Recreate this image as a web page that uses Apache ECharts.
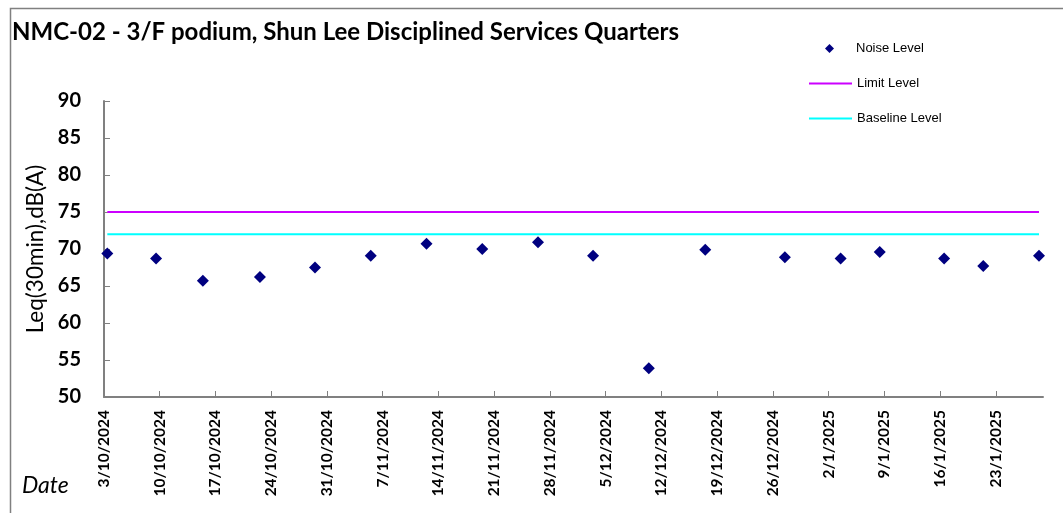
<!DOCTYPE html>
<html>
<head>
<meta charset="utf-8">
<title>NMC-02 noise</title>
<script src="https://cdn.jsdelivr.net/npm/echarts@6/dist/echarts.min.js"></script>
<style>
  html, body { margin: 0; padding: 0; background: #fff; }
  #chart { width: 1063px; height: 513px; }
</style>
</head>
<body>
<div id="chart"></div>
<script>
const noiseTimes = [
    '2024-10-03 10:00', '2024-10-09 13:00', '2024-10-15 10:00', '2024-10-22 14:00',
    '2024-10-29 12:00', '2024-11-05 12:00', '2024-11-12 12:00', '2024-11-19 12:00',
    '2024-11-26 12:00', '2024-12-03 10:00', '2024-12-10 10:00', '2024-12-17 12:00',
    '2024-12-27 12:00', '2025-01-03 12:00', '2025-01-08 10:00', '2025-01-16 12:00',
    '2025-01-21 10:00', '2025-01-28 10:00'
];
const noiseLevels = [
    69.4, 68.7, 65.7, 66.2, 67.5, 69.1, 70.7, 70.0, 70.9,
    69.1, 53.9, 69.9, 68.9, 68.7, 69.6, 68.7, 67.7, 69.1
];
const limitLevel = 75;
const baselineLevel = 72;
const tickLabels = [
    '3/10/2024', '10/10/2024', '17/10/2024', '24/10/2024', '31/10/2024',
    '7/11/2024', '14/11/2024', '21/11/2024', '28/11/2024', '5/12/2024',
    '12/12/2024', '19/12/2024', '26/12/2024', '2/1/2025', '9/1/2025',
    '16/1/2025', '23/1/2025'
];
const axisStart = '2024-10-03 00:00';
const axisEnd = '2025-01-28 22:00';

const DAY = 86400000;
function toDays(s) {
    const p = s.split(/[- :]/).map(Number);
    const t = Date.UTC(p[0], p[1] - 1, p[2], p[3] || 0, p[4] || 0);
    const q = axisStart.split(/[- :]/).map(Number);
    return (t - Date.UTC(q[0], q[1] - 1, q[2], q[3] || 0, q[4] || 0)) / DAY;
}

const xs = noiseTimes.map(toDays);
const noiseData = xs.map((x, i) => [x, noiseLevels[i]]);
const limitData = xs.map(x => [x, limitLevel]);
const baseData = xs.map(x => [x, baselineLevel]);
const tickValues = tickLabels.map((_, i) => i * 7);

const legendText = { fontFamily: 'Liberation Sans', fontSize: 13, color: '#000' };

const chart = echarts.init(document.getElementById('chart'));
chart.setOption({
    animation: false,
    graphic: [{
        type: 'rect',
        shape: { x: 10.5, y: 8.5, width: 1100, height: 600 },
        style: { fill: 'none', stroke: '#808080', lineWidth: 1.5 },
        silent: true
    }, {
        type: 'text',
        left: 22, top: 474,
        style: { text: 'Date', font: 'italic 23px Lato', fill: '#000' }
    }],
    title: {
        text: 'NMC-02 - 3/F podium, Shun Lee Disciplined Services Quarters',
        left: 7, top: 15,
        textStyle: { fontFamily: 'Lato', fontWeight: 'bold', fontSize: 24, color: '#000' }
    },
    legend: [{
        left: 825, top: 42,
        padding: 0,
        itemWidth: 9, itemHeight: 9,
        icon: 'diamond',
        textStyle: Object.assign({ padding: [0, 0, 0, 17] }, legendText),
        data: ['Noise Level']
    }, {
        orient: 'vertical',
        left: 809, top: 77,
        padding: 0,
        itemWidth: 43, itemHeight: 2,
        icon: 'rect',
        itemGap: 22,
        textStyle: legendText,
        data: ['Limit Level', 'Baseline Level']
    }],
    grid: { left: 104, right: 20, top: 101, bottom: 116, containLabel: false },
    xAxis: {
        type: 'value',
        min: 0,
        max: toDays(axisEnd),
        interval: 7,
        splitLine: { show: false },
        axisLine: { lineStyle: { color: '#808080', width: 2 } },
        axisTick: { inside: true, length: 6, customValues: tickValues, lineStyle: { color: '#808080' } },
        axisLabel: {
            customValues: tickValues,
            rotate: 90,
            margin: 13,
            fontFamily: 'Lato', fontWeight: 'bold', fontSize: 15.5, color: '#000',
            formatter: v => tickLabels[Math.round(v / 7)] || ''
        }
    },
    yAxis: {
        type: 'value',
        min: 50, max: 90, interval: 5,
        name: 'Leq(30min),dB(A)',
        nameLocation: 'middle',
        nameGap: 56,
        nameTextStyle: { fontFamily: 'Lato', fontSize: 22.5, color: '#000' },
        splitLine: { show: false },
        axisLine: { show: true, lineStyle: { color: '#808080', width: 2 } },
        axisTick: { show: true, inside: true, length: 6, lineStyle: { color: '#808080' } },
        axisLabel: { margin: 23, fontFamily: 'Lato', fontWeight: 'bold', fontSize: 20, color: '#000' }
    },
    series: [{
        name: 'Noise Level',
        type: 'scatter',
        symbol: 'diamond',
        symbolSize: 12,
        itemStyle: { color: '#000080', opacity: 1 },
        data: noiseData,
        z: 3
    }, {
        name: 'Limit Level',
        type: 'line',
        symbol: 'none',
        lineStyle: { color: '#CC00FF', width: 2 },
        itemStyle: { color: '#CC00FF' },
        data: limitData
    }, {
        name: 'Baseline Level',
        type: 'line',
        symbol: 'none',
        lineStyle: { color: '#00FFFF', width: 2 },
        itemStyle: { color: '#00FFFF' },
        data: baseData
    }]
});
</script>
</body>
</html>
